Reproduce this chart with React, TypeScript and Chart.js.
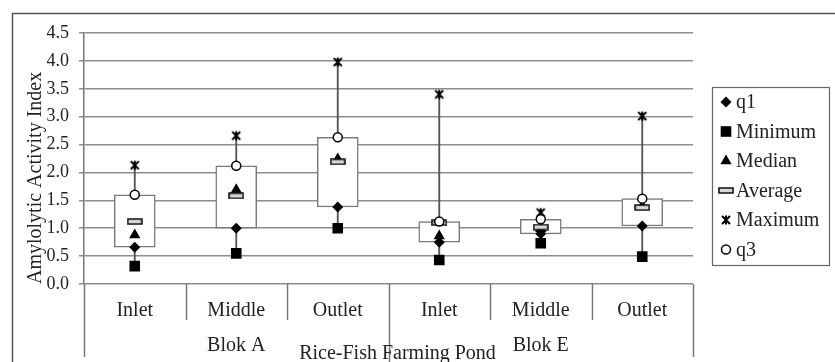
import React, { useEffect, useRef } from 'react';
import { Chart, registerables } from 'chart.js';
import { drawPoint } from 'chart.js/helpers';

Chart.register(...registerables);

// ---- data ----
const categories = ['Inlet', 'Middle', 'Outlet', 'Inlet', 'Middle', 'Outlet'];
const groupLabels = ['Blok A', 'Blok E'];
const groupSizes = [3, 3];
const outerLabel = 'Rice-Fish Farming Pond';
const q1 = [0.66, 1.0, 1.38, 0.75, 0.9, 1.04];
const minimum = [0.32, 0.55, 1.0, 0.43, 0.73, 0.49];
const median = [0.88, 1.69, 2.24, 0.86, 0.99, 1.4];
const average = [1.12, 1.58, 2.19, 1.1, 1.02, 1.37];
const maximum = [2.13, 2.66, 3.98, 3.4, 1.28, 3.01];
const q3 = [1.6, 2.12, 2.63, 1.12, 1.16, 1.53];
const yMin = 0;
const yMax = 4.5;
const yStep = 0.5;

const FONT = '"Liberation Serif", "Times New Roman", serif';

function makeAvg() {
  const c = document.createElement('canvas');
  c.width = 16;
  c.height = 7;
  const g = c.getContext('2d')!;
  g.fillStyle = '#d8d8d8';
  g.strokeStyle = '#111';
  g.lineWidth = 1.6;
  g.beginPath();
  g.rect(1, 1, 14, 5);
  g.fill();
  g.stroke();
  return c;
}

function makeMax() {
  const c = document.createElement('canvas');
  c.width = 12;
  c.height = 12;
  const g = c.getContext('2d')!;
  g.strokeStyle = '#000';
  g.lineWidth = 2;
  g.beginPath();
  g.moveTo(2, 2);
  g.lineTo(10, 10);
  g.moveTo(10, 2);
  g.lineTo(2, 10);
  g.moveTo(6, 1.5);
  g.lineTo(6, 10.5);
  g.stroke();
  return c;
}

export default function App() {
  const ref = useRef<HTMLCanvasElement>(null);

  useEffect(() => {
    const canvas = ref.current!;
    const avgImg = makeAvg();
    const maxImg = makeMax();

    const markers: any[] = [
      { label: 'q1', data: q1, style: 'rectRot', radius: 5.5, bg: '#000', bc: '#000', bw: 0, order: 8 },
      { label: 'Minimum', data: minimum, style: 'rect', radius: 7.5, bg: '#000', bc: '#000', bw: 0, order: 7 },
      { label: 'Median', data: median, style: 'triangle', radius: 6.5, bg: '#000', bc: '#000', bw: 0, order: 6 },
      { label: 'Average', data: average, style: avgImg, radius: 8, bg: '#000', bc: '#000', bw: 0, order: 5 },
      { label: 'Maximum', data: maximum, style: maxImg, radius: 6, bg: '#000', bc: '#000', bw: 0, order: 4 },
      { label: 'q3', data: q3, style: 'circle', radius: 4.5, bg: '#fff', bc: '#000', bw: 1.5, order: 3 },
    ];

    const decor = {
      id: 'decor',
      beforeDraw(chart: any) {
        const ctx = chart.ctx;
        ctx.save();
        ctx.strokeStyle = '#555';
        ctx.lineWidth = 1.5;
        ctx.strokeRect(12.5, 13.5, 1000, 1000);
        ctx.restore();
      },
      afterDraw(chart: any) {
        const { ctx, chartArea } = chart;
        const x = chart.scales.x;
        const half = (x.getPixelForValue(1) - x.getPixelForValue(0)) / 2;
        const edge = (k: number) =>
          k < categories.length ? x.getPixelForValue(k) - half : x.getPixelForValue(categories.length - 1) + half;
        const groupEdges: number[] = [0];
        groupSizes.forEach((s) => groupEdges.push(groupEdges[groupEdges.length - 1] + s));
        ctx.save();
        ctx.strokeStyle = '#777';
        ctx.lineWidth = 1.5;
        for (let k = 0; k <= categories.length; k++) {
          const isGroup = groupEdges.includes(k);
          const isInner = isGroup && k !== 0 && k !== categories.length;
          const y2 = isInner ? 365 : isGroup ? 357 : 320;
          const px = Math.round(edge(k)) + 0.5;
          ctx.beginPath();
          ctx.moveTo(px, chartArea.bottom);
          ctx.lineTo(px, y2);
          ctx.stroke();
        }
        // group labels
        ctx.fillStyle = '#222';
        ctx.font = '20px ' + FONT;
        ctx.textAlign = 'center';
        ctx.textBaseline = 'middle';
        groupLabels.forEach((g, i) => {
          const cx = (edge(groupEdges[i]) + edge(groupEdges[i + 1])) / 2;
          ctx.fillText(g, cx, 346);
        });
        ctx.fillText(outerLabel, (chartArea.left + chartArea.right) / 2 + 9, 354);

        // legend
        const lx = 712.5, ly = 87.5, lw = 117, lh = 178;
        ctx.strokeStyle = '#666';
        ctx.lineWidth = 1.2;
        ctx.strokeRect(lx, ly, lw, lh);
        ctx.textAlign = 'left';
        markers.forEach((m, i) => {
          const cy = 102 + i * 29.5;
          ctx.fillStyle = m.bg;
          ctx.strokeStyle = m.bc;
          ctx.lineWidth = m.bw;
          drawPoint(ctx, { pointStyle: m.style, radius: m.radius, rotation: 0, borderWidth: m.bw }, 726, cy);
          ctx.fillStyle = '#222';
          ctx.fillText(m.label, 736, cy + 1);
        });
        ctx.restore();
      },
    };

    const chart = new Chart(canvas, {
      type: 'bar',
      data: {
        labels: categories,
        datasets: [
          {
            type: 'bar',
            label: 'whisker',
            data: minimum.map((m, i) => [m, maximum[i]]) as any,
            backgroundColor: '#555',
            barThickness: 1.2,
            grouped: false,
            order: 20,
          } as any,
          {
            type: 'bar',
            label: 'box',
            data: q1.map((v, i) => [v, q3[i]]) as any,
            backgroundColor: '#fff',
            borderColor: '#7a7a7a',
            borderWidth: 1.5,
            borderSkipped: false,
            barThickness: 41,
            grouped: false,
            order: 19,
          } as any,
          ...markers.map((m) => ({
            type: 'line',
            label: m.label,
            data: m.data,
            showLine: false,
            pointStyle: m.style,
            pointRadius: m.radius,
            pointBackgroundColor: m.bg,
            pointBorderColor: m.bc,
            pointBorderWidth: m.bw,
            order: m.order,
          })),
        ] as any,
      },
      options: {
        animation: false,
        responsive: false,
        devicePixelRatio: 1,
        events: [],
        layout: { padding: { left: 10, top: 33, right: 142, bottom: 0 } },
        plugins: { legend: { display: false }, tooltip: { enabled: false } },
        scales: {
          x: {
            offset: true,
            grid: { display: false },
            border: { display: false },
            ticks: { color: '#222', font: { family: FONT, size: 20 }, padding: 7, maxRotation: 0, autoSkip: false },
            afterFit: (s: any) => {
              s.height = 78;
            },
          },
          y: {
            min: yMin,
            max: yMax,
            grid: { color: '#8c8c8c', lineWidth: 1.5, tickLength: 5, tickColor: '#8c8c8c' },
            border: { display: true, color: '#777', width: 1.5 },
            ticks: {
              stepSize: yStep,
              color: '#222',
              padding: 10,
              font: { family: FONT, size: 18 },
              callback: (v: any) => Number(v).toFixed(1),
            },
            title: {
              display: true,
              text: 'Amylolytic Activity Index',
              align: 'start',
              color: '#222',
              font: { family: FONT, size: 20 },
              padding: { top: 14, bottom: 0 },
            },
            afterFit: (s: any) => {
              s.width = 74;
            },
          },
        },
      } as any,
      plugins: [decor],
    });
    return () => chart.destroy();
  }, []);

  return (
    <div style={{ position: 'absolute', left: 0, top: 0, width: 835, height: 362, overflow: 'hidden', background: '#fff' }}>
      <canvas ref={ref} width={835} height={362} />
    </div>
  );
}
